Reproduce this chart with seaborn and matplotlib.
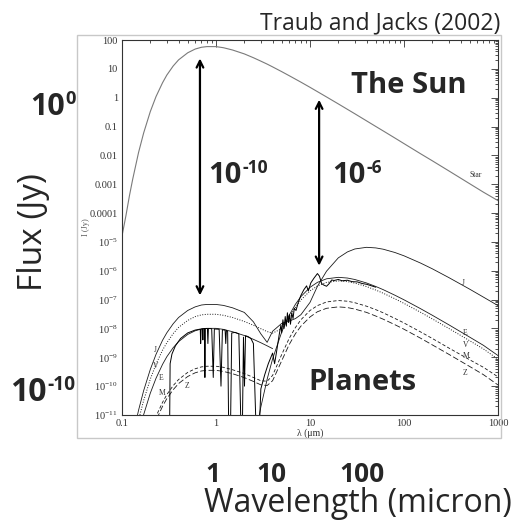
import matplotlib
matplotlib.use("Agg")
import matplotlib.pyplot as plt
import matplotlib.ticker as mticker
from matplotlib.patches import Rectangle
import seaborn as sns

# wavelength grid (micron) shared by the smooth curves
lam = [0.1, 0.11, 0.12, 0.13, 0.15, 0.17, 0.2, 0.23, 0.27, 0.3,
       0.35, 0.4, 0.5, 0.6, 0.7, 0.8, 1.0, 1.2, 1.5, 2.0,
       2.5, 3.0, 3.5, 4.0, 5.0, 6.0, 7.0, 8.0, 10, 12,
       15, 20, 25, 30, 40, 50, 60, 80, 100, 150,
       200, 300, 500, 700, 1000]

# flux in Jy
star = [1.6e-5, 8e-5, 4e-4, 1.5e-3, 1.26e-2, 0.06, 0.33, 1.09, 3.3, 6.1,
        12.5, 20.5, 36, 48.5, 56, 59, 59, 54, 45, 33,
        24.3, 18.5, 14.6, 11.7, 8.0, 5.8, 4.4, 3.46, 2.29, 1.62,
        1.06, 0.61, 0.395, 0.277, 0.157, 0.101, 0.0707, 0.04, 0.0256, 0.0114,
        0.0065, 0.0029, 0.00104, 0.00053, 0.00027]
jupiter = [2e-14, 9e-14, 4.6e-13, 1.8e-12, 1.46e-11, 7e-11, 3.8e-10, 1.26e-9, 3.9e-9, 7.1e-9,
           1.45e-8, 2.4e-8, 4.2e-8, 5.6e-8, 6.5e-8, 6.8e-8, 6.8e-8, 6.3e-8, 5.2e-8, 3.6e-8,
           1.7e-8, 6.5e-9, 3.3e-9, 8e-9, 1.5e-8, 1.8e-8, 2.2e-8, 3e-8, 8e-8, 2.9e-7,
           9.7e-7, 2.8e-6, 4.5e-6, 5.7e-6, 6.5e-6, 6.2e-6, 5.6e-6, 4.3e-6, 3.3e-6, 1.85e-6,
           1.17e-6, 5.8e-7, 2.3e-7, 1.22e-7, 6.2e-8]
venus = [1e-14, 4e-14, 2e-13, 8e-13, 6.7e-12, 3.2e-11, 1.75e-10, 5.8e-10, 1.77e-9, 3.2e-9,
         6.6e-9, 1.09e-8, 1.9e-8, 2.57e-8, 2.96e-8, 3.1e-8, 3.1e-8, 2.86e-8, 2.4e-8, 1.75e-8,
         1.29e-8, 9.8e-9, 7.8e-9, 6.9e-9, 9.8e-9, 2.46e-8, 5.4e-8, 9.7e-8, 2e-7, 2.98e-7,
         3.95e-7, 4.44e-7, 4.2e-7, 3.74e-7, 2.83e-7, 2.15e-7, 1.67e-7, 1.07e-7, 7.4e-8, 3.64e-8,
         2.15e-8, 1e-8, 3.75e-9, 1.95e-9, 8.6e-10]
# Earth: reflected continuum (0.1-4 um) and thermal continuum (2.5-1000 um)
earth_refl = [2.8e-15, 1.4e-14, 6.9e-14, 2.6e-13, 2.2e-12, 1.03e-11, 5.7e-11, 1.87e-10, 5.7e-10, 1.05e-9,
              2.15e-9, 3.5e-9, 6.2e-9, 8.3e-9, 9.6e-9, 1.01e-8, 1.01e-8, 9.3e-9, 7.7e-9, 5.7e-9,
              4.2e-9, 3.2e-9, 2.5e-9, 2e-9]
earth_therm = [7.6e-13, 1.9e-11, 1.74e-10, 8.8e-10, 7.5e-9, 2.86e-8, 6.9e-8, 1.27e-7, 2.66e-7, 3.97e-7,
               5.27e-7, 5.92e-7, 5.6e-7, 4.98e-7, 3.77e-7, 2.86e-7, 2.22e-7, 1.42e-7, 9.85e-8, 4.85e-8,
               2.87e-8, 1.34e-8, 5e-9, 2.6e-9, 1.15e-9]
mars = [1.3e-16, 6.6e-16, 3.3e-15, 1.2e-14, 1e-13, 5e-13, 2.7e-12, 9e-12, 2.74e-11, 5.1e-11,
        1.04e-10, 1.7e-10, 3e-10, 4e-10, 4.65e-10, 4.9e-10, 4.9e-10, 4.5e-10, 3.7e-10, 2.74e-10,
        2e-10, 1.54e-10, 1.48e-10, 2.35e-10, 1.25e-9, 4.5e-9, 1.08e-8, 2e-8, 4.2e-8, 6.2e-8,
        8.3e-8, 9.3e-8, 8.8e-8, 7.8e-8, 5.9e-8, 4.5e-8, 3.5e-8, 2.23e-8, 1.55e-8, 7.6e-9,
        4.5e-9, 2.1e-9, 8.2e-10, 4.5e-10, 2.1e-10]
zodi = [1e-16, 5e-16, 2.4e-15, 9e-15, 7.6e-14, 3.6e-13, 2e-12, 6.5e-12, 2e-11, 3.7e-11,
        7.5e-11, 1.23e-10, 2.16e-10, 2.9e-10, 3.36e-10, 3.54e-10, 3.54e-10, 3.24e-10, 2.7e-10, 1.98e-10,
        1.46e-10, 1.11e-10, 1.05e-10, 1.54e-10, 7.6e-10, 2.75e-9, 6.6e-9, 1.2e-8, 2.5e-8, 3.8e-8,
        5e-8, 5.6e-8, 5.3e-8, 4.7e-8, 3.6e-8, 2.7e-8, 2.1e-8, 1.35e-8, 9.4e-9, 4.6e-9,
        2.7e-9, 1.27e-9, 4.8e-10, 2.5e-10, 1.1e-10]

# Earth spectrum with absorption bands
spec_lam = [0.32, 0.325, 0.34, 0.37, 0.42, 0.5, 0.6, 0.68, 0.687, 0.695,
            0.72, 0.725, 0.73, 0.755, 0.762, 0.77, 0.81, 0.82, 0.83, 0.9,
            0.935, 0.96, 1.08, 1.13, 1.17, 1.25, 1.27, 1.29, 1.33, 1.37,
            1.42, 1.47, 1.6, 1.75, 1.83, 1.9, 1.96, 2.01, 2.06, 2.2,
            2.35, 2.5, 2.6, 2.7, 2.85, 3.0, 3.3, 3.6, 4.0, 4.2,
            4.4, 4.7, 4.9, 5.0, 5.15, 5.3, 5.45, 5.6, 5.75, 5.9,
            6.05, 6.2, 6.4, 6.6, 6.8, 7.1, 7.5, 8.0, 8.6, 9.2,
            9.6, 10.2, 11, 12, 12.6, 13.3, 14, 15, 16, 17,
            18, 20, 22, 25, 28, 32, 36, 40, 50]
spec_flux = [1e-12, 6e-10, 1.3e-9, 2.5e-9, 4.5e-9, 7e-9, 8.8e-9, 9.5e-9, 3e-9, 9.6e-9,
             9.7e-9, 4e-9, 9.8e-9, 1e-8, 2e-10, 1e-8, 1e-8, 3e-9, 1e-8, 9.8e-9,
             2e-10, 9.6e-9, 9.4e-9, 1e-10, 9e-9, 8.8e-9, 3e-9, 8.6e-9, 8e-9, 1e-12,
             1e-12, 7e-9, 7.3e-9, 6.5e-9, 1e-11, 1e-12, 5e-9, 1e-10, 5.6e-9, 5.2e-9,
             4.5e-9, 3e-9, 5e-11, 1e-12, 1e-12, 8e-11, 2.5e-10, 6e-10, 1.4e-9, 6e-10,
             1.5e-9, 6e-9, 1.3e-8, 7e-9, 2e-8, 1e-8, 2.6e-8, 1.2e-8, 3.5e-8, 1.6e-8,
             3e-8, 1.4e-8, 3.5e-8, 2.2e-8, 5e-8, 4.2e-8, 8e-8, 1.4e-7, 2.2e-7, 3e-7,
             2e-7, 3.8e-7, 5.5e-7, 8e-7, 6.5e-7, 3.6e-7, 3.2e-7, 2.9e-7, 3.6e-7, 4.8e-7,
             4.6e-7, 5e-7, 4.5e-7, 4.7e-7, 4.2e-7, 4.1e-7, 3.6e-7, 3.4e-7, 2.7e-7]

# flux-ratio arrows: x position, top, bottom
arrow_x = [0.675, 12.5]
arrow_top = [23, 0.85]
arrow_bottom = [1.4e-7, 1.5e-6]

xticks = [0.1, 1, 10, 100, 1000]
xtick_labels = ["0.1", "1", "10", "100", "1000"]
yticks = [1e2, 1e1, 1e0, 1e-1, 1e-2, 1e-3, 1e-4, 1e-5, 1e-6, 1e-7, 1e-8, 1e-9, 1e-10, 1e-11]
ytick_labels = ["100", "10", "1", "0.1", "0.01", "0.001", "0.0001",
                r"$10^{-5}$", r"$10^{-6}$", r"$10^{-7}$", r"$10^{-8}$",
                r"$10^{-9}$", r"$10^{-10}$", r"$10^{-11}$"]

sns.set_style("white")
plt.rcParams["font.family"] = ["Open Sans", "DejaVu Sans"]
plt.rcParams["mathtext.default"] = "regular"

W, H = 512, 522
fig = plt.figure(figsize=(W / 100, H / 100), dpi=100)
renderer = fig.canvas.get_renderer()


def px(x, y):
    return x / W, 1 - y / H


def power_label(x, y, exp, size):
    # "10" with a raised, smaller exponent, slide style
    base = fig.text(*px(x, y), "10", ha="left", va="baseline", fontsize=size, weight="bold")
    x1 = base.get_window_extent(renderer).x1
    fig.text(x1 / W + 0.002, 1 - (y - 0.48 * size) / H, exp, ha="left", va="baseline",
             fontsize=0.6 * size, weight="bold")


# light frame around the pasted figure
fig.patches.append(Rectangle(px(77, 438), 424 / W, 403 / H, transform=fig.transFigure,
                             fill=False, ec="#c8c8c8", lw=1))

ax = fig.add_axes([122 / W, 1 - 415 / H, 376 / W, 375 / H])
ax.set_xscale("log")
ax.set_yscale("log")

ink = "#1a1a1a"
sns.lineplot(x=lam, y=star, ax=ax, color="#7a7a7a", lw=0.8, sort=False, estimator=None)
sns.lineplot(x=lam, y=jupiter, ax=ax, color=ink, lw=0.6, sort=False, estimator=None)
sns.lineplot(x=lam, y=venus, ax=ax, color=ink, lw=0.7, linestyle=(0, (1, 1.6)), sort=False, estimator=None)
sns.lineplot(x=lam[:24], y=earth_refl, ax=ax, color=ink, lw=0.6, sort=False, estimator=None)
sns.lineplot(x=lam[20:], y=earth_therm, ax=ax, color=ink, lw=0.6, sort=False, estimator=None)
sns.lineplot(x=lam, y=mars, ax=ax, color=ink, lw=0.6, linestyle=(0, (4, 2.5)), sort=False, estimator=None)
sns.lineplot(x=lam, y=zodi, ax=ax, color=ink, lw=0.6, linestyle=(0, (7, 3)), sort=False, estimator=None)
sns.lineplot(x=spec_lam, y=spec_flux, ax=ax, color="black", lw=0.7, sort=False, estimator=None)

ax.set_xlim(0.1, 1000)
ax.set_ylim(1e-11, 100)

serif = ["Liberation Serif", "DejaVu Serif"]
ax.set_xticks(xticks)
ax.set_xticklabels(xtick_labels, family=serif, fontsize=7.5, color="#333333")
ax.set_yticks(yticks)
ax.set_yticklabels(ytick_labels, family=serif, fontsize=7.5, color="#333333")
ax.xaxis.set_minor_locator(mticker.LogLocator(base=10, subs=range(2, 10), numticks=50))
ax.yaxis.set_minor_locator(mticker.LogLocator(base=10, subs=range(2, 10), numticks=50))
ax.xaxis.set_minor_formatter(mticker.NullFormatter())
ax.yaxis.set_minor_formatter(mticker.NullFormatter())
ax.tick_params(which="both", direction="in", top=True, right=True, color="#333333", width=0.6)
ax.tick_params(which="major", length=5, pad=3)
ax.tick_params(which="minor", length=2.5)
for s in ax.spines.values():
    s.set_color("#333333")
    s.set_linewidth(0.8)
ax.set_xlabel("λ (μm)", family=serif, fontsize=7, labelpad=0, color="#333333")
ax.set_ylabel("I (Jy)", family=serif, fontsize=6, labelpad=0, color="#555555")

# curve labels
small = dict(family=serif, fontsize=5.5, color="#333333", transform=ax.transAxes)
curve_labels = [("Star", 470, 175), ("J", 462, 283), ("E", 463, 333), ("V", 463, 345),
                ("M.", 463, 356), ("Z", 463, 373), ("J", 154, 350), ("V", 153, 366),
                ("E", 159, 378), ("M", 159, 393), ("Z", 185, 386)]
for t, x, y in curve_labels:
    ax.text((x - 122) / 376, (415 - y) / 375, t, ha="left", va="center", **small)

for x, top, bot in zip(arrow_x, arrow_top, arrow_bottom):
    ax.annotate("", xy=(x, top), xytext=(x, bot),
                arrowprops=dict(arrowstyle="<->", color="black", lw=1.6,
                                mutation_scale=12, shrinkA=0, shrinkB=0))

# slide annotations
fig.text(*px(500, 29), "Traub and Jacks (2002)", ha="right", va="baseline", fontsize=16.5)
power_label(30, 115, "0", 22)
power_label(10, 401, "-10", 23)
fig.text(*px(33, 232), "Flux (Jy)", ha="center", va="center", rotation=90, fontsize=24)
power_label(208, 183, "-10", 21)
power_label(332, 183, "-6", 21)
fig.text(*px(351, 93), "The Sun", ha="left", va="baseline", fontsize=21, weight="bold")
fig.text(*px(308, 390), "Planets", ha="left", va="baseline", fontsize=21, weight="bold")
for t, x in [("1", 213), ("10", 271), ("100", 362)]:
    fig.text(*px(x, 482), t, ha="center", va="baseline", fontsize=19, weight="bold")
fig.text(*px(204, 512), "Wavelength (micron)", ha="left", va="baseline", fontsize=23)

fig.savefig("out.png", dpi=100)
